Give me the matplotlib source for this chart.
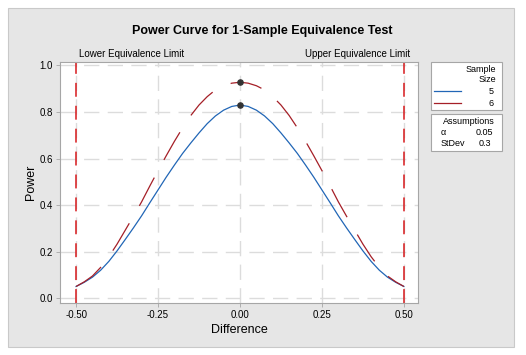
import matplotlib
matplotlib.use("Agg")
import matplotlib.pyplot as plt
from matplotlib.patches import Rectangle
from matplotlib.lines import Line2D
import numpy as np

plt.rcParams['font.family'] = ['Liberation Sans', 'DejaVu Sans']
plt.rcParams['lines.scale_dashes'] = False

# ---- data ----
difference = [-0.500, -0.475, -0.450, -0.425, -0.400, -0.375, -0.350, -0.325, -0.300,
              -0.275, -0.250, -0.225, -0.200, -0.175, -0.150, -0.125, -0.100, -0.075,
              -0.050, -0.025, 0.000, 0.025, 0.050, 0.075, 0.100, 0.125, 0.150, 0.175,
              0.200, 0.225, 0.250, 0.275, 0.300, 0.325, 0.350, 0.375, 0.400, 0.425,
              0.450, 0.475, 0.500]
power_n5 = [0.050, 0.068, 0.090, 0.120, 0.158, 0.203, 0.252, 0.302, 0.354, 0.410, 0.465,
            0.520, 0.572, 0.622, 0.667, 0.710, 0.750, 0.783, 0.808, 0.824, 0.830,
            0.824, 0.808, 0.783, 0.750, 0.710, 0.667, 0.622, 0.572, 0.520, 0.465,
            0.410, 0.354, 0.302, 0.252, 0.203, 0.158, 0.120, 0.090, 0.068, 0.050]
power_n6 = [0.050, 0.070, 0.095, 0.132, 0.178, 0.232, 0.292, 0.352, 0.414, 0.482, 0.548,
            0.612, 0.674, 0.732, 0.785, 0.830, 0.866, 0.895, 0.913, 0.924, 0.928,
            0.924, 0.913, 0.895, 0.866, 0.830, 0.785, 0.732, 0.674, 0.612, 0.548,
            0.482, 0.414, 0.352, 0.292, 0.232, 0.178, 0.132, 0.095, 0.070, 0.050]
peak_x = [0.0, 0.0]
peak_y = [0.830, 0.928]
limits = [-0.5, 0.5]
xticks = [-0.50, -0.25, 0.00, 0.25, 0.50]
xticklabels = ["-0.50", "-0.25", "0.00", "0.25", "0.50"]
yticks = [0.0, 0.2, 0.4, 0.6, 0.8, 1.0]
yticklabels = ["0.0", "0.2", "0.4", "0.6", "0.8", "1.0"]
sample_sizes = ["5", "6"]
alpha_val = "0.05"
stdev_val = "0.3"

W, H = 526, 355
fig = plt.figure(figsize=(W / 100, H / 100), dpi=100)
fig.patch.set_facecolor('white')

def fx(px):
    return px / W

def fy(py):
    return 1 - py / H

# outer gray panel
fig.add_artist(Rectangle((fx(8), fy(347)), fx(514) - fx(8), fy(8) - fy(347),
                         transform=fig.transFigure, facecolor='#e6e6e6',
                         edgecolor='#c9c9c9', linewidth=0.8, zorder=0))

BLUE = '#2166b6'
RED = '#a51f27'
LIMRED = '#d7191c'
GRID = '#dcdcdc'
SPINE = '#a6a6a6'

ax = fig.add_axes([fx(60), fy(303), fx(418) - fx(60), fy(62) - fy(303)])
ax.set_facecolor('white')
ax.set_xlim(-0.549, 0.543)
ax.set_ylim(-0.021, 1.015)

for t in xticks:
    ax.axvline(t, color=GRID, lw=1.0, dashes=(11, 6), zorder=1)
for t in yticks:
    ax.axhline(t, color=GRID, lw=1.0, dashes=(11, 6), zorder=1)

for lx in limits:
    ax.axvline(lx, color=LIMRED, lw=1.1, dashes=(10, 6.5), zorder=2)

ax.plot(difference, power_n5, color=BLUE, lw=0.9, zorder=3)
ax.plot(difference, power_n6, color=RED, lw=0.9, dashes=(23, 14.5), zorder=3)
ax.scatter(peak_x, peak_y, s=14, color='#333333', zorder=4)

ax.set_xticks(xticks)
ax.set_xticklabels(xticklabels)
ax.set_yticks(yticks)
ax.set_yticklabels(yticklabels)
ax.tick_params(axis='both', length=3, width=0.6, color=SPINE, labelsize=7, pad=2)
for s in ax.spines.values():
    s.set_color(SPINE)
    s.set_linewidth(0.8)

ax.set_xlabel("Difference", fontsize=9, labelpad=3)
ax.set_ylabel("Power", fontsize=9, labelpad=2)

fig.text(fx(262), fy(31), "Power Curve for 1-Sample Equivalence Test",
         ha='center', va='center', fontsize=9, fontweight='bold')
fig.text(fx(79), fy(54), "Lower Equivalence Limit", ha='left', va='center', fontsize=7)
fig.text(fx(410), fy(54), "Upper Equivalence Limit", ha='right', va='center', fontsize=7)

# legend box 1
fig.add_artist(Rectangle((fx(431), fy(110)), fx(502) - fx(431), fy(62) - fy(110),
                         transform=fig.transFigure, facecolor='white',
                         edgecolor=SPINE, linewidth=0.8))
fig.text(fx(496), fy(69), "Sample", ha='right', va='center', fontsize=6.5)
fig.text(fx(496), fy(80), "Size", ha='right', va='center', fontsize=6.5)
for yy, col, lab in [(91, BLUE, sample_sizes[0]), (103, RED, sample_sizes[1])]:
    fig.add_artist(Line2D([fx(434), fx(461)], [fy(yy), fy(yy)], transform=fig.transFigure,
                          color=col, lw=0.9))
    fig.text(fx(494), fy(yy), lab, ha='right', va='center', fontsize=6.5)

# legend box 2
fig.add_artist(Rectangle((fx(431), fy(151)), fx(502) - fx(431), fy(114) - fy(151),
                         transform=fig.transFigure, facecolor='white',
                         edgecolor=SPINE, linewidth=0.8))
fig.text(fx(495), fy(122), "Assumptions", ha='right', va='center', fontsize=6.5)
fig.text(fx(441), fy(133), "α", ha='left', va='center', fontsize=6.5)
fig.text(fx(493), fy(133), alpha_val, ha='right', va='center', fontsize=6.5)
fig.text(fx(441), fy(143), "StDev", ha='left', va='center', fontsize=6.5)
fig.text(fx(491), fy(143), stdev_val, ha='right', va='center', fontsize=6.5)

fig.savefig("out.png", dpi=100, facecolor='white')
